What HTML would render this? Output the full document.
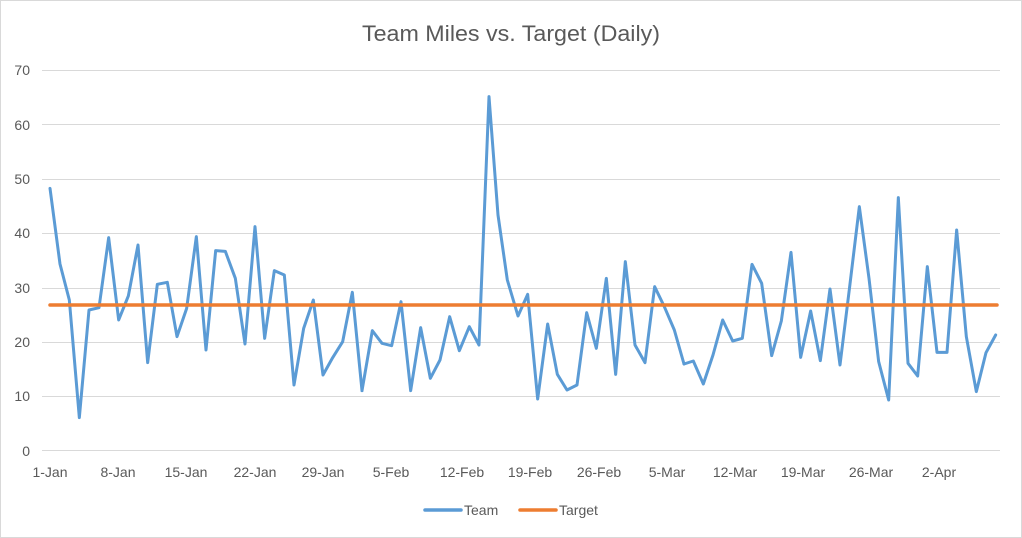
<!DOCTYPE html>
<html><head><meta charset="utf-8"><style>
html,body{margin:0;padding:0;background:#fff;}
svg{display:block;font-family:"Liberation Sans",sans-serif;}
</style></head><body>
<svg width="1022" height="538" viewBox="0 0 1022 538" xmlns="http://www.w3.org/2000/svg">
<rect x="0.5" y="0.5" width="1021" height="537" fill="#fff" stroke="#d9d9d9"/>
<text x="511" y="41" text-anchor="middle" font-size="22" fill="#595959" textLength="298" lengthAdjust="spacingAndGlyphs">Team Miles vs. Target (Daily)</text>
<g stroke="#d9d9d9" stroke-width="1">
<line x1="42" x2="1000" y1="70.5" y2="70.5"/>
<line x1="42" x2="1000" y1="124.5" y2="124.5"/>
<line x1="42" x2="1000" y1="179.5" y2="179.5"/>
<line x1="42" x2="1000" y1="233.5" y2="233.5"/>
<line x1="42" x2="1000" y1="288.5" y2="288.5"/>
<line x1="42" x2="1000" y1="342.5" y2="342.5"/>
<line x1="42" x2="1000" y1="396.5" y2="396.5"/>
<line x1="42" x2="1000" y1="450.5" y2="450.5"/>
</g>
<g font-size="14" fill="#595959" text-anchor="end">
<text x="30" y="75">70</text><text x="30" y="130">60</text><text x="30" y="184">50</text>
<text x="30" y="238">40</text><text x="30" y="293">30</text><text x="30" y="347">20</text>
<text x="30" y="401">10</text><text x="30" y="456">0</text>
</g>
<g font-size="14" fill="#595959" text-anchor="middle">
<text x="50" y="477">1-Jan</text><text x="118" y="477">8-Jan</text><text x="186" y="477">15-Jan</text>
<text x="255" y="477">22-Jan</text><text x="323" y="477">29-Jan</text><text x="391" y="477">5-Feb</text>
<text x="462" y="477">12-Feb</text><text x="530" y="477">19-Feb</text><text x="599" y="477">26-Feb</text>
<text x="667" y="477">5-Mar</text><text x="735" y="477">12-Mar</text><text x="803" y="477">19-Mar</text>
<text x="871" y="477">26-Mar</text><text x="939" y="477">2-Apr</text>
</g>
<g fill="none" stroke="#5b9bd5" stroke-width="3" stroke-linejoin="round" stroke-linecap="round">
<g transform="translate(40,60) scale(0.33333)">
<polyline vector-effect="non-scaling-stroke" points="30,385 60,612 88,720 118,1073 147,750 177,743 206,533 236,780 265,708 294,555 323,908 352,673 382,667 411,830 440,745 469,530 498,870 527,572 556,574 586,655 615,852 645,500 674,835 703,632 733,645 762,975 791,805 820,720 849,945 878,893 908,845 937,697 966,992"/>
</g>
<g transform="translate(360,60) scale(0.33333)">
<polyline vector-effect="non-scaling-stroke" points="6,992 37,812 66,850 95,857 123,725 152,992 182,803 211,955 240,900 269,770 298,872 328,800 357,855 387,110 414,465 442,660 474,768 503,703 533,1017 563,792 592,943 621,990 651,975 680,758 709,865 739,655 767,943 796,605 825,855 855,908 884,680 913,740 943,810 972,912"/>
</g>
<g transform="translate(680,60) scale(0.33333)">
<polyline vector-effect="non-scaling-stroke" points="12,912 40,903 70,972 99,885 128,780 158,843 187,835 216,613 245,670 275,887 304,783 333,577 362,892 392,753 421,902 450,687 480,915 509,680 538,440 567,655 596,905 626,1020 655,413 684,910 713,948 742,620 771,877 801,877 830,510 859,830 889,995 918,878 947,825"/>
</g>
</g>
<line x1="50" x2="997" y1="305" y2="305" stroke="#ed7d31" stroke-width="3.5" stroke-linecap="round"/>
<line x1="425" x2="461" y1="510" y2="510" stroke="#5b9bd5" stroke-width="3.5" stroke-linecap="round"/>
<text x="464" y="515" font-size="14" fill="#595959">Team</text>
<line x1="520" x2="556" y1="510" y2="510" stroke="#ed7d31" stroke-width="3.5" stroke-linecap="round"/>
<text x="559" y="515" font-size="14" fill="#595959">Target</text>
</svg>
</body></html>
